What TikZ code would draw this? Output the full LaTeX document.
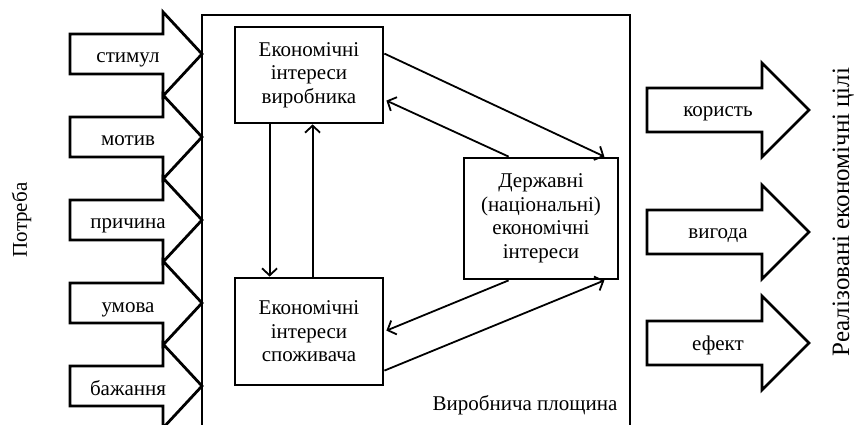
\documentclass[tikz,border=0pt]{standalone}
\usepackage{fontspec}
\setmainfont{Liberation Serif}
\usetikzlibrary{calc,arrows.meta}
\tikzset{
  txt/.style={font=\fontsize{21}{23.5}\selectfont, inner sep=0pt, align=center},
  lbl/.style={font=\fontsize{21}{23.5}\selectfont, inner sep=0pt, anchor=base},
  ibox/.style={draw, line width=2.8pt, inner sep=0pt, align=center,
    font=\fontsize{21}{23.5}\selectfont},
  frame/.style={line width=2.4pt},
  fat/.style={draw, line width=2.8pt, line join=miter},
  conn/.style={line width=1.8pt, -{Straight Barb[length=7pt,width=15pt,line width=1.8pt]}},
}
\newcommand{\leftarr}[3]{%
  \draw[fat] (70,#1-20) -- (163,#1-20) -- (163,#1-42) -- (202,#1) -- (163,#1+42) -- (163,#1+20) -- (70,#1+20) -- cycle;
  \node[lbl] (#2) at (128,#1+9) {#3};}
\newcommand{\rightarr}[3]{%
  \draw[fat] (647,#1-22) -- (762,#1-22) -- (762,#1-47) -- (809,#1) -- (762,#1+47) -- (762,#1+22) -- (647,#1+22) -- cycle;
  \node[lbl] (#2) at (718,#1+7) {#3};}
\begin{document}
\begin{tikzpicture}[x=1pt,y=-1pt]
\useasboundingbox (0,0) rectangle (855,425);
% frame
\draw[frame] (202,440) -- (202,15) -- (630,15) -- (630,440);
% left arrows
\leftarr{54}{l1}{стимул}
\leftarr{137}{l2}{мотив}
\leftarr{220}{l3}{причина}
\leftarr{303}{l4}{умова}
\leftarr{386}{l5}{бажання}
% right arrows
\rightarr{110}{r1}{користь}
\rightarr{232}{r2}{вигода}
\rightarr{343}{r3}{ефект}
% side labels
\node[lbl, rotate=90] (need) at (27,220) {Потреба};
\node[lbl, rotate=90, font=\fontsize{25}{28}\selectfont] (goal) at (849,212) {Реалізовані економічні цілі};
% boxes
\node[ibox, minimum width=148pt, minimum height=96pt] (b1) at (309,75) {Економічні\\інтереси\\виробника};
\node[ibox, minimum width=148pt, minimum height=107pt] (b2) at (309,331.5) {Економічні\\інтереси\\споживача};
\node[ibox, minimum width=154pt, minimum height=121pt] (b3) at (541,218.5) {Державні\\(національні)\\економічні\\інтереси};
\node[lbl] (plane) at (525,410) {Виробнича площина};
% connectors
\draw[conn] ($(b1.south west)+(36,0)$) -- ($(b2.north west)+(36,0)$);
\draw[conn] ($(b2.north west)+(79,0)$) -- ($(b1.south west)+(79,0)$);
\draw[conn] ($(b1.north east)+(0,28)$) -- ($(b3.north east)+(-15,0)$);
\draw[conn] ($(b3.north west)+(46,0)$) -- ($(b1.north east)+(2,75)$);
\draw[conn] ($(b3.south west)+(46,0)$) -- ($(b2.north east)+(2,54)$);
\draw[conn] ($(b2.north east)+(0,94)$) -- ($(b3.south east)+(-15,0)$);
\end{tikzpicture}
\end{document}
